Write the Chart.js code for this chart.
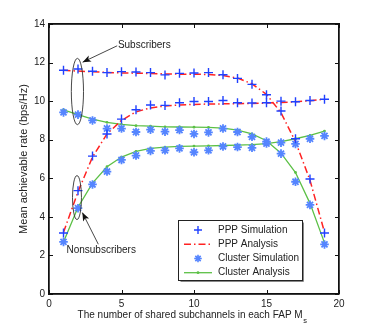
<!DOCTYPE html>
<html>
<head>
<meta charset="utf-8">
<script src="https://cdn.jsdelivr.net/npm/chart.js@4/dist/chart.umd.min.js"></script>
<style>
  html, body { margin: 0; padding: 0; background: #fff; }
  #wrap { width: 374px; height: 331px; }
</style>
</head>
<body>
<div id="wrap"><canvas id="rateChart"></canvas></div>
<script>
// Mean achievable rate vs number of shared subchannels
const subchannels = [1, 2, 3, 4, 5, 6, 7, 8, 9, 10, 11, 12, 13, 14, 15, 16, 17, 18, 19];
const pppSimSub = [11.60, 11.67, 11.55, 11.48, 11.53, 11.51, 11.48, 11.36, 11.44, 11.46, 11.48, 11.37, 11.18, 10.87, 10.33, 9.49, 8.05, 5.96, 3.16];
const pppAnaSub = [11.60, 11.56, 11.52, 11.49, 11.46, 11.45, 11.43, 11.41, 11.40, 11.40, 11.38, 11.33, 11.20, 10.90, 10.35, 9.40, 7.90, 5.90, 3.20];
const pppSimNon = [3.16, 5.36, 7.15, 8.30, 9.07, 9.55, 9.80, 9.78, 9.92, 9.98, 9.98, 10.03, 9.92, 9.90, 9.92, 10.00, 9.97, 10.03, 10.10];
const pppAnaNon = [3.20, 5.30, 7.10, 8.30, 9.00, 9.45, 9.65, 9.75, 9.80, 9.83, 9.85, 9.86, 9.87, 9.88, 9.90, 9.93, 9.97, 10.02, 10.10];
const cluSimSub = [9.42, 9.30, 9.00, 8.58, 8.58, 8.40, 8.52, 8.42, 8.50, 8.30, 8.38, 8.58, 8.40, 8.15, 7.90, 7.28, 5.82, 4.62, 2.57];
const cluAnaSub = [9.55, 9.30, 9.07, 8.90, 8.80, 8.73, 8.70, 8.67, 8.66, 8.65, 8.64, 8.60, 8.50, 8.30, 7.95, 7.30, 6.30, 4.70, 2.65];
const cluSimNon = [2.70, 4.45, 5.68, 6.35, 6.95, 7.18, 7.42, 7.45, 7.55, 7.35, 7.45, 7.65, 7.62, 7.58, 7.80, 7.85, 7.78, 8.05, 8.20];
const cluAnaNon = [2.70, 4.50, 5.75, 6.60, 7.10, 7.40, 7.55, 7.62, 7.65, 7.67, 7.68, 7.70, 7.72, 7.75, 7.80, 7.90, 8.05, 8.22, 8.45];

const legendLabels = ['PPP Simulation', 'PPP Analysis', 'Cluster Simulation', 'Cluster Analysis'];
const xTitle = 'The number of shared subchannels in each FAP M';
const xTitleSub = 's';
const yTitle = 'Mean achievable rate (bps/Hz)';

const BLUE = '#2040ff';
const STAR = '#5585ff';
const RED = '#ff2222';
const GREEN = '#5cc046';
const FONT = '"Liberation Sans", Arial, sans-serif';
const AXIS = '#111';

const pts = (ys) => subchannels.map((x, i) => ({ x: x, y: ys[i] }));

function simSet(ys, style, color, r, bw) {
    return {
        data: pts(ys), showLine: false, pointStyle: style,
        pointRadius: r, pointBorderColor: color, pointBackgroundColor: color,
        pointBorderWidth: bw
    };
}
function redLine(ys) {
    return {
        data: pts(ys), showLine: true, borderColor: RED, borderWidth: 1.5,
        borderDash: [7, 3, 1.5, 3], pointRadius: 0, tension: 0
    };
}
function greenLine(ys) {
    return {
        data: pts(ys), showLine: true, borderColor: GREEN, borderWidth: 1.3,
        pointStyle: 'circle', pointRadius: 1.4, pointBackgroundColor: GREEN,
        pointBorderColor: GREEN, pointBorderWidth: 0, tension: 0
    };
}

// annotations (ellipses, arrows, labels) in data coordinates
const ellipses = [
    { x: 1.96, y: 10.5, rx: 0.42, ry: 1.72 },
    { x: 1.93, y: 5.0, rx: 0.31, ry: 1.14 }
];
const arrows = [
    { x0: 4.7, y0: 12.87, x1: 2.32, y1: 12.02 },
    { x0: 3.4, y0: 2.58, x1: 2.3, y1: 4.22 }
];
const notes = [
    { text: 'Subscribers', x: 4.75, y: 12.92, align: 'left' },
    { text: 'Nonsubscribers', x: 3.6, y: 2.25, align: 'center' }
];

const decor = {
    id: 'decor',
    afterDraw(chart) {
        const { ctx, scales: { x, y } } = chart;
        ctx.save();
        const L = x.getPixelForValue(0), R = x.getPixelForValue(20);

        // ellipses
        ctx.strokeStyle = '#333';
        ctx.lineWidth = 0.9;
        ellipses.forEach(e => {
            const cx = x.getPixelForValue(e.x), cy = y.getPixelForValue(e.y);
            const rx = x.getPixelForValue(e.x + e.rx) - cx;
            const ry = cy - y.getPixelForValue(e.y + e.ry);
            ctx.beginPath();
            ctx.ellipse(cx, cy, rx, ry, 0, 0, Math.PI * 2);
            ctx.stroke();
        });

        // arrows
        arrows.forEach(ar => {
            const x0 = x.getPixelForValue(ar.x0), y0 = y.getPixelForValue(ar.y0);
            const x1 = x.getPixelForValue(ar.x1), y1 = y.getPixelForValue(ar.y1);
            const ang = Math.atan2(y1 - y0, x1 - x0);
            ctx.strokeStyle = '#333';
            ctx.lineWidth = 0.9;
            ctx.beginPath();
            ctx.moveTo(x0, y0); ctx.lineTo(x1, y1);
            ctx.stroke();
            const hl = 9, hw = 0.38;
            ctx.fillStyle = '#111';
            ctx.beginPath();
            ctx.moveTo(x1, y1);
            ctx.lineTo(x1 - hl * Math.cos(ang - hw), y1 - hl * Math.sin(ang - hw));
            ctx.lineTo(x1 - hl * 0.7 * Math.cos(ang), y1 - hl * 0.7 * Math.sin(ang));
            ctx.lineTo(x1 - hl * Math.cos(ang + hw), y1 - hl * Math.sin(ang + hw));
            ctx.closePath();
            ctx.fill();
        });

        ctx.fillStyle = '#222';
        ctx.font = '10px ' + FONT;
        ctx.textBaseline = 'middle';
        notes.forEach(n => {
            ctx.textAlign = n.align;
            ctx.fillText(n.text, x.getPixelForValue(n.x), y.getPixelForValue(n.y));
        });

        // x title with subscript
        ctx.font = '10px ' + FONT;
        const w1 = ctx.measureText(xTitle).width;
        ctx.font = '7.5px ' + FONT;
        const w2 = ctx.measureText(xTitleSub).width;
        const cxm = (L + R) / 2 - 2;
        const sx = cxm - (w1 + w2) / 2;
        ctx.textAlign = 'left';
        ctx.font = '10px ' + FONT;
        ctx.fillText(xTitle, sx, 315);
        ctx.font = '7.5px ' + FONT;
        ctx.fillText(xTitleSub, sx + w1 + 0.5, 320.5);

        // legend
        const lx = 178.5, ly = 220.5, lw2 = 124, lh = 60;
        ctx.fillStyle = '#fff';
        ctx.fillRect(lx, ly, lw2, lh);
        ctx.strokeStyle = '#222';
        ctx.lineWidth = 1;
        ctx.strokeRect(lx, ly, lw2, lh);
        ctx.strokeStyle = '#888';
        ctx.beginPath();
        ctx.moveTo(lx + lw2 + 1, ly + 2); ctx.lineTo(lx + lw2 + 1, ly + lh + 1); ctx.lineTo(lx + 2, ly + lh + 1);
        ctx.stroke();
        const rowY = [230, 244.3, 258.5, 272.7];
        const sx0 = 184, sx1 = 212, mx = 198;
        ctx.font = '10px ' + FONT;
        ctx.textAlign = 'left';
        legendLabels.forEach((lab, i) => {
            ctx.fillStyle = '#222';
            ctx.fillText(lab, 218, rowY[i]);
        });
        // PPP Simulation sample
        ctx.strokeStyle = BLUE; ctx.lineWidth = 1.4;
        ctx.beginPath();
        ctx.moveTo(mx - 4, rowY[0]); ctx.lineTo(mx + 4, rowY[0]);
        ctx.moveTo(mx, rowY[0] - 4); ctx.lineTo(mx, rowY[0] + 4);
        ctx.stroke();
        // PPP Analysis sample
        ctx.strokeStyle = RED; ctx.lineWidth = 1.5;
        ctx.setLineDash([7, 3, 1.5, 3]);
        ctx.beginPath(); ctx.moveTo(sx0, rowY[1]); ctx.lineTo(sx1, rowY[1]); ctx.stroke();
        ctx.setLineDash([]);
        // Cluster Simulation sample
        ctx.strokeStyle = STAR; ctx.lineWidth = 1.6;
        ctx.beginPath();
        for (let k = 0; k < 4; k++) {
            const ang = k * Math.PI / 4;
            ctx.moveTo(mx - 3.8 * Math.cos(ang), rowY[2] - 3.8 * Math.sin(ang));
            ctx.lineTo(mx + 3.8 * Math.cos(ang), rowY[2] + 3.8 * Math.sin(ang));
        }
        ctx.stroke();
        // Cluster Analysis sample
        ctx.strokeStyle = GREEN; ctx.lineWidth = 1.3;
        ctx.beginPath(); ctx.moveTo(sx0, rowY[3]); ctx.lineTo(sx1, rowY[3]); ctx.stroke();
        ctx.fillStyle = GREEN;
        ctx.beginPath(); ctx.arc(mx, rowY[3], 1.4, 0, Math.PI * 2); ctx.fill();

        // box edges and inward ticks, last
        const T = y.getPixelForValue(14), B = y.getPixelForValue(0);
        ctx.strokeStyle = AXIS;
        ctx.lineWidth = 1.3;
        ctx.beginPath();
        ctx.moveTo(L, T); ctx.lineTo(R, T);
        ctx.moveTo(R, T); ctx.lineTo(R, B);
        ctx.moveTo(L, B); ctx.lineTo(R, B);
        ctx.moveTo(L, T); ctx.lineTo(L, B);
        ctx.stroke();
        ctx.lineWidth = 1;
        ctx.beginPath();
        x.ticks.forEach(t => {
            const px = Math.round(x.getPixelForValue(t.value)) + 0.5;
            ctx.moveTo(px, B); ctx.lineTo(px, B - 4);
            ctx.moveTo(px, T); ctx.lineTo(px, T + 4);
        });
        y.ticks.forEach(t => {
            const py = Math.round(y.getPixelForValue(t.value)) + 0.5;
            ctx.moveTo(L, py); ctx.lineTo(L + 4, py);
            ctx.moveTo(R, py); ctx.lineTo(R - 4, py);
        });
        ctx.stroke();
        ctx.restore();
    }
};

const edgeScale = (axis, position) => ({
    type: 'linear', axis: axis, position: position, min: 0, max: axis === 'x' ? 20 : 14,
    ticks: { display: false }, grid: { display: false, drawTicks: false },
    border: { display: true, color: AXIS, width: 1.3 },
    afterFit: (s) => { if (axis === 'x') s.height = 0; else s.width = 0; }
});

new Chart(document.getElementById('rateChart').getContext('2d'), {
    type: 'scatter',
    data: {
        datasets: [
            simSet(pppSimSub, 'cross', BLUE, 4.5, 1.4),
            simSet(pppSimNon, 'cross', BLUE, 4.5, 1.4),
            simSet(cluSimSub, 'star', STAR, 4.3, 1.8),
            simSet(cluSimNon, 'star', STAR, 4.3, 1.8),
            redLine(pppAnaSub),
            redLine(pppAnaNon),
            greenLine(cluAnaSub),
            greenLine(cluAnaNon)
        ]
    },
    options: {
        responsive: true,
        maintainAspectRatio: false,
        animation: false,
        layout: { padding: { left: 0, top: 24, right: 35, bottom: 0 } },
        plugins: { legend: { display: false }, tooltip: { enabled: false } },
        scales: {
            x: {
                type: 'linear', min: 0, max: 20,
                grid: { display: false, drawTicks: false },
                border: { display: true, color: AXIS, width: 1.3 },
                ticks: { stepSize: 5, color: '#222', padding: 4, font: { family: FONT, size: 10 } },
                afterFit: (s) => { s.height = 37; }
            },
            y: {
                min: 0, max: 14,
                grid: { display: false, drawTicks: false },
                border: { display: true, color: AXIS, width: 1.3 },
                ticks: { stepSize: 2, color: '#222', padding: 4, font: { family: FONT, size: 10 } },
                title: {
                    display: true, text: yTitle, color: '#222',
                    font: { family: FONT, size: 11 }, padding: { top: 17, bottom: 0 }
                },
                afterFit: (s) => { s.width = 49; }
            },
            xTop: edgeScale('x', 'top'),
            yRight: edgeScale('y', 'right')
        }
    },
    plugins: [decor]
});
</script>
</body>
</html>
